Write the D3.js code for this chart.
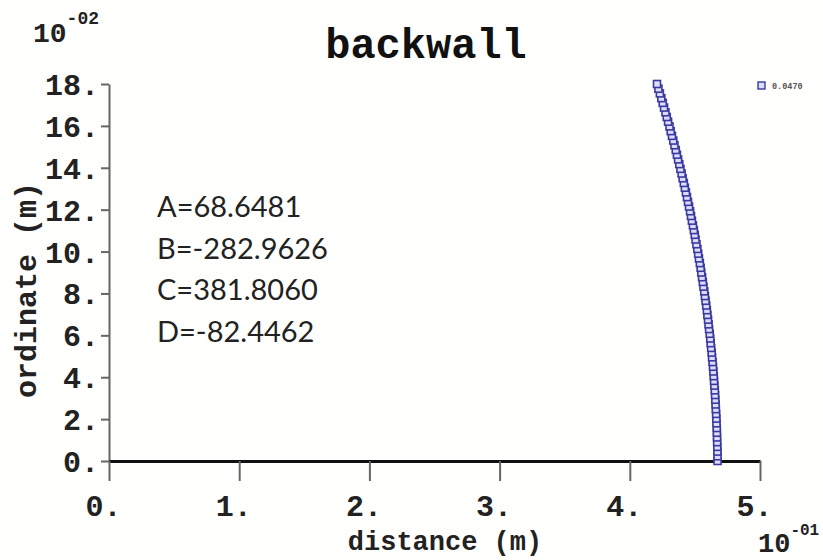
<!DOCTYPE html>
<html>
<head>
<meta charset="utf-8">
<script src="https://cdn.jsdelivr.net/npm/d3@7"></script>
<style>
  html, body { margin: 0; padding: 0; background: #ffffff; }
  svg { display: block; }
</style>
</head>
<body>
<svg id="chart" width="823" height="560"></svg>
<script>
// ---- data (x in units of 1e-1 m, y in units of 1e-2 m) ----
const ordinate = [0, 0.225, 0.45, 0.675, 0.9, 1.125, 1.35, 1.575, 1.8, 2.025,
  2.25, 2.475, 2.7, 2.925, 3.15, 3.375, 3.6, 3.825, 4.05, 4.275,
  4.5, 4.725, 4.95, 5.175, 5.4, 5.625, 5.85, 6.075, 6.3, 6.525,
  6.75, 6.975, 7.2, 7.425, 7.65, 7.875, 8.1, 8.325, 8.55, 8.775,
  9.0, 9.225, 9.45, 9.675, 9.9, 10.125, 10.35, 10.575, 10.8, 11.025,
  11.25, 11.475, 11.7, 11.925, 12.15, 12.375, 12.6, 12.825, 13.05, 13.275,
  13.5, 13.725, 13.95, 14.175, 14.4, 14.625, 14.85, 15.075, 15.3, 15.525,
  15.75, 15.975, 16.2, 16.425, 16.65, 16.875, 17.1, 17.325, 17.55, 17.775, 18.0];
const distance = [4.674, 4.674, 4.673, 4.672, 4.671, 4.670, 4.669, 4.668, 4.666, 4.665,
  4.663, 4.661, 4.659, 4.657, 4.655, 4.653, 4.650, 4.647, 4.645, 4.642,
  4.639, 4.636, 4.632, 4.629, 4.625, 4.621, 4.618, 4.614, 4.609, 4.605,
  4.601, 4.596, 4.592, 4.587, 4.582, 4.577, 4.572, 4.566, 4.561, 4.555,
  4.549, 4.544, 4.538, 4.531, 4.525, 4.519, 4.512, 4.505, 4.499, 4.492,
  4.485, 4.477, 4.470, 4.463, 4.455, 4.447, 4.439, 4.431, 4.423, 4.415,
  4.406, 4.398, 4.389, 4.380, 4.371, 4.362, 4.353, 4.343, 4.334, 4.324,
  4.314, 4.305, 4.294, 4.284, 4.274, 4.263, 4.253, 4.242, 4.231, 4.220, 4.209];
const xTicks = [0, 1, 2, 3, 4, 5];
const yTicks = [0, 2, 4, 6, 8, 10, 12, 14, 16, 18];
const coefLabels = ["A=68.6481", "B=-282.9626", "C=381.8060", "D=-82.4462"];
const legendLabel = "0.0470";
const titleText = "backwall";
const xTitle = "distance (m)";
const yTitle = "ordinate (m)";

// ---- drawing ----
const svg = d3.select("#chart");
const mono = "'Liberation Mono', 'Courier New', monospace";
const x = d3.scaleLinear().domain([0, 5]).range([109, 760]);
const y = d3.scaleLinear().domain([0, 18]).range([461, 84]);

svg.append("rect").attr("width", 823).attr("height", 560).attr("fill", "#fffffd");

// y axis
const gy = svg.append("g").attr("transform", `translate(${x(0)},0)`)
  .call(d3.axisLeft(y).tickValues(yTicks).tickSize(8).tickSizeOuter(0).tickPadding(2)
    .tickFormat(d => d + "."));
gy.select(".domain").attr("stroke", "#666").attr("stroke-width", 2);
gy.selectAll(".tick line").attr("stroke", "#666").attr("stroke-width", 2);
gy.selectAll(".tick text").attr("font-family", mono).attr("font-weight", "bold")
  .attr("font-size", 30).attr("fill", "#222").attr("dy", "0.35em");

// x axis
const gx = svg.append("g").attr("transform", `translate(0,${y(0)})`)
  .call(d3.axisBottom(x).tickValues(xTicks).tickSize(20).tickSizeOuter(0).tickPadding(14)
    .tickFormat(d => d + "."));
gx.select(".domain").attr("stroke", "#111").attr("stroke-width", 3);
gx.selectAll(".tick line").attr("stroke", "#666").attr("stroke-width", 2);
gx.selectAll(".tick text").attr("font-family", mono).attr("font-weight", "bold")
  .attr("font-size", 30).attr("fill", "#222").attr("dx", -6);

// title
svg.append("text").attr("x", 426).attr("y", 58).attr("text-anchor", "middle")
  .attr("font-family", mono).attr("font-weight", "bold").attr("font-size", 42)
  .attr("fill", "#111").text(titleText);

// axis titles
svg.append("text").attr("x", 445).attr("y", 550).attr("text-anchor", "middle")
  .attr("font-family", mono).attr("font-weight", "bold").attr("font-size", 27)
  .attr("fill", "#222").text(xTitle);
svg.append("text").attr("transform", "translate(36,290) rotate(-90)").attr("text-anchor", "middle")
  .attr("font-family", mono).attr("font-weight", "bold").attr("font-size", 30)
  .attr("fill", "#222").text(yTitle);

// exponent labels
const e1 = svg.append("text").attr("x", 33).attr("y", 42).attr("font-family", mono)
  .attr("font-weight", "bold").attr("font-size", 28).attr("fill", "#222");
e1.append("tspan").text("10");
e1.append("tspan").attr("dy", -18).attr("font-size", 18).text("-02");
const e2 = svg.append("text").attr("x", 758).attr("y", 552).attr("font-family", mono)
  .attr("font-weight", "bold").attr("font-size", 27).attr("fill", "#222");
e2.append("tspan").text("10");
e2.append("tspan").attr("dy", -17).attr("font-size", 16).text("-01");

// coefficient text
svg.append("g").selectAll("text").data(coefLabels).join("text")
  .attr("x", 157).attr("y", (d, i) => 217 + i * 41.7)
  .attr("font-family", "Lato, 'Open Sans', sans-serif").attr("font-size", 29)
  .attr("fill", "#222").text(d => d);

// data points
const pts = ordinate.map((o, i) => ({ o, d: distance[i] }));
const s = 7;
svg.append("g").selectAll("rect").data(pts).join("rect")
  .attr("x", p => x(p.d) - s / 2).attr("y", p => y(p.o) - s / 2)
  .attr("width", s).attr("height", s)
  .attr("fill", "#dcdcff").attr("stroke", "#3a3a9e").attr("stroke-width", 1.6);

// legend
svg.append("rect").attr("x", 758).attr("y", 82).attr("width", 7).attr("height", 7)
  .attr("fill", "#dcdcff").attr("stroke", "#3a3a9e").attr("stroke-width", 1.4);
svg.append("text").attr("x", 772).attr("y", 89).attr("font-family", mono)
  .attr("font-weight", "bold").attr("font-size", 8.5).attr("fill", "#555").text(legendLabel);
</script>
</body>
</html>
